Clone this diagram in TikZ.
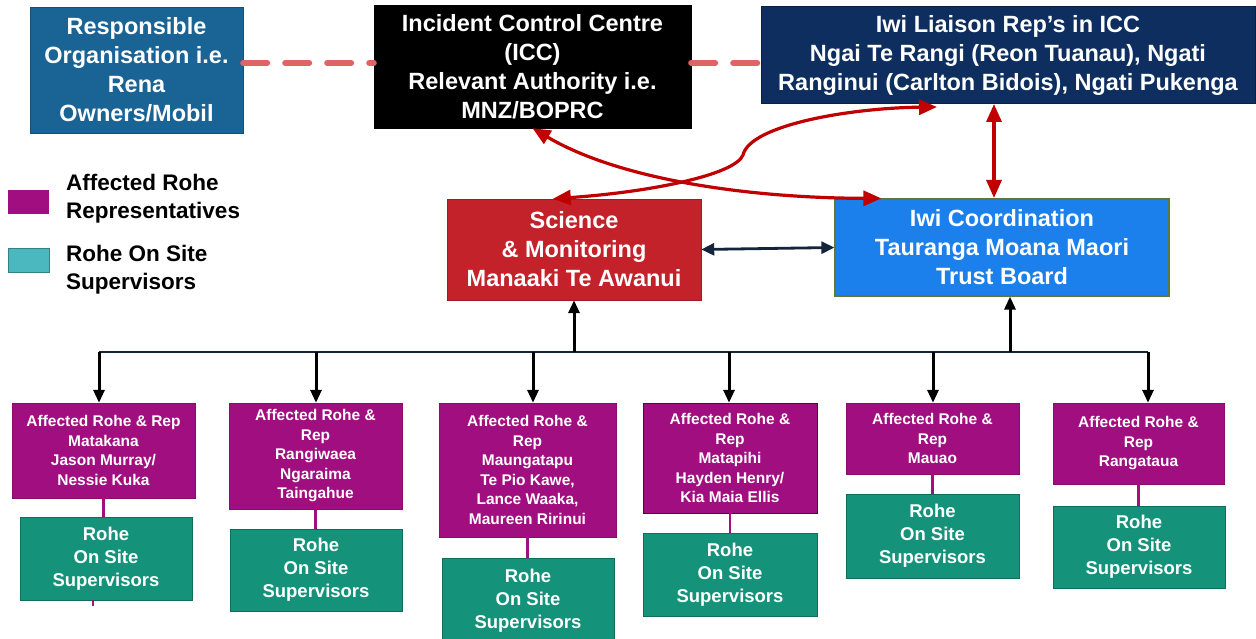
\documentclass[tikz,border=0pt]{standalone}
\usepackage{fontspec}
\setmainfont{Liberation Sans}
\usepackage{xcolor}
\usetikzlibrary{arrows.meta,calc}
\definecolor{respblue}{HTML}{1A6395}
\definecolor{liaisonnavy}{HTML}{0D2E5E}
\definecolor{sciencered}{HTML}{C4222A}
\definecolor{coordblue}{HTML}{1C80EC}
\definecolor{coordedge}{HTML}{5B7A3A}
\definecolor{rohepurple}{HTML}{A10E80}
\definecolor{sitegreen}{HTML}{14937A}
\definecolor{sitegreenedge}{HTML}{0E6E5A}
\definecolor{legendteal}{HTML}{4BB8C0}
\definecolor{linkred}{HTML}{C00000}
\definecolor{dashred}{HTML}{E06464}
\definecolor{linknavy}{HTML}{14243A}
\tikzset{
	topbox/.style={
			inner sep=2pt, align=center, text=white,
			font=\bfseries\fontsize{23.5}{29}\selectfont
		},
	rohebox/.style={
			draw=rohepurple!85!black, fill=rohepurple, text=white, align=center,
			inner sep=1pt, font=\bfseries\fontsize{15.5}{19.5}\selectfont
		},
	sitebox/.style={
			draw=sitegreenedge, fill=sitegreen, text=white, align=center,
			minimum width=172pt, inner sep=1pt,
			font=\bfseries\fontsize{18.5}{23}\selectfont
		},
	legendtext/.style={
			anchor=west, inner sep=0pt, align=left,
			font=\bfseries\fontsize{22.5}{28}\selectfont
		},
	redlink/.style={
			linkred, line width=3.2pt,
			{Triangle[length=18pt,width=15pt]}-{Triangle[length=18pt,width=15pt]}
		},
	treearrow/.style={black, line width=3pt, -{Triangle[length=13pt,width=11pt]}},
	rohelink/.style={rohepurple, line width=2.5pt}
}

\begin{document}
\begin{tikzpicture}[x=1pt,y=-1pt]
	\useasboundingbox (0,0) rectangle (1256,639);

	% Top row
	\node[topbox, fill=respblue, draw=respblue!80!black, minimum width=213pt, minimum height=126pt]
		(resp) at (136.5,70) {Responsible\\Organisation i.e.\\Rena\\Owners/Mobil};
	\node[topbox, fill=black, draw=black, minimum width=317pt, minimum height=123pt]
		(icc) at (532.5,66.5) {Incident Control Centre\\(ICC)\\Relevant Authority i.e.\\MNZ/BOPRC};
	\node[topbox, fill=liaisonnavy, draw=liaisonnavy!70!black, minimum width=494pt, minimum height=97pt]
		(liaison) at (1008,55) {Iwi Liaison Rep's in ICC\\Ngai Te Rangi (Reon Tuanau), Ngati\\Ranginui (Carlton Bidois), Ngati Pukenga};

	% Dashed links between the top boxes
	\coordinate (dashline) at (0,63);
	\draw[dashred, line width=6pt, line cap=round, dash pattern=on 24pt off 18pt]
		(resp.east |- dashline) -- (icc.west |- dashline);
	\draw[dashred, line width=6pt, line cap=round, dash pattern=on 24pt off 18pt]
		(icc.east |- dashline) -- (liaison.west |- dashline);

	% Legend
	\node[fill=rohepurple, minimum width=41pt, minimum height=24pt, inner sep=0pt] (keyrep) at (28.5,202) {};
	\node[legendtext] (legrep) at (66,199) {Affected Rohe\\Representatives};
	\node[fill=legendteal, draw=legendteal!70!black, minimum width=41pt, minimum height=24pt, inner sep=0pt] (keysite) at (28.5,260) {};
	\node[legendtext] (legsite) at (66,269.5) {Rohe On Site\\Supervisors};

	% Middle row
	\node[topbox, fill=sciencered, draw=sciencered!80!black, minimum width=254pt, minimum height=101pt]
		(sci) at (574,249.5) {Science\\\& Monitoring\\Manaaki Te Awanui};
	\node[topbox, fill=coordblue, draw=coordedge, line width=1.2pt, minimum width=334pt, minimum height=97pt]
		(coord) at (1002,247.5) {Iwi Coordination\\Tauranga Moana Maori\\Trust Board};
	\draw[linknavy, line width=2.8pt, {Triangle[length=13pt,width=12pt]}-{Triangle[length=13pt,width=12pt]}]
		(sci.east) -- (coord.west);

	% Red links
	\draw[redlink] (icc.south) .. controls (620,180) and (750,198) .. ([xshift=47pt]coord.north west);
	\draw[redlink] ([xshift=106pt]sci.north west) .. controls (650,192) and (735,175) .. (743,155)
		.. controls (750,125) and (850,108) .. (937,107);
	\draw[redlink] (994,104) -- (994,198);

	% Affected rohe
	\node[rohebox, minimum width=183pt, minimum height=95pt] (p1) at (103.5,450.5)
		{Affected Rohe \& Rep\\Matakana\\Jason Murray/\\Nessie Kuka};
	\node[rohebox, minimum width=173pt, minimum height=106pt] (p2) at (315.5,456)
		{Affected Rohe \&\\Rep\\Rangiwaea\\Ngaraima\\Taingahue};
	\node[rohebox, minimum width=177pt, minimum height=134pt] (p3) at (527.5,470)
		{Affected Rohe \&\\Rep\\Maungatapu\\Te Pio Kawe,\\Lance Waaka,\\Maureen Ririnui};
	\node[rohebox, draw=linknavy, minimum width=174pt, minimum height=110pt] (p4) at (730,458)
		{Affected Rohe \&\\Rep\\Matapihi\\Hayden Henry/\\Kia Maia Ellis};
	\node[rohebox, minimum width=173pt, minimum height=71pt] (p5) at (932.5,438.5)
		{Affected Rohe \&\\Rep\\Mauao};
	\node[rohebox, minimum width=171pt, minimum height=81pt] (p6) at (1138.5,443.5)
		{Affected Rohe \&\\Rep\\Rangataua};

	% On site supervisors
	\node[sitebox, minimum height=83pt] (s1) at (106,558.5) {Rohe\\On Site\\Supervisors};
	\node[sitebox, minimum height=82pt] (s2) at (316,570) {Rohe\\On Site\\Supervisors};
	\node[sitebox, minimum height=86pt] (s3) at (528,601) {Rohe\\On Site\\Supervisors};
	\node[sitebox, minimum width=174pt, minimum height=83pt] (s4) at (730,574.5) {Rohe\\On Site\\Supervisors};
	\node[sitebox, minimum width=173pt, minimum height=84pt] (s5) at (932.5,536) {Rohe\\On Site\\Supervisors};
	\node[sitebox, minimum height=82pt] (s6) at (1139,547) {Rohe\\On Site\\Supervisors};

	\draw[rohelink] (p1.south) -- (p1.south |- s1.north);
	\draw[rohelink] (p2.south) -- (p2.south |- s2.north);
	\draw[rohelink] (p3.south) -- (p3.south |- s3.north);
	\draw[rohelink] (p4.south) -- (p4.south |- s4.north);
	\draw[rohelink] (p5.south) -- (p5.south |- s5.north);
	\draw[rohelink] (p6.south) -- (p6.south |- s6.north);
	\coordinate (stub) at (93,606);
	\draw[rohelink, line width=2pt] (stub |- s1.south) -- (stub);

	% Tree
	\coordinate (b1) at (99,352);
	\coordinate (b2) at (316,352);
	\coordinate (b3) at (533,352);
	\coordinate (b4) at (729,352);
	\coordinate (b5) at (933,352);
	\coordinate (b6) at (1148,352);
	\coordinate (up1) at (574,352);
	\coordinate (up2) at (1010,352);
	\draw[linknavy, line width=2.8pt] (b1) -- (b6);
	\draw[treearrow] (b1) -- (b1 |- p1.north);
	\draw[treearrow] (b2) -- (b2 |- p2.north);
	\draw[treearrow] (b3) -- (b3 |- p3.north);
	\draw[treearrow] (b4) -- (b4 |- p4.north);
	\draw[treearrow] (b5) -- (b5 |- p5.north);
	\draw[treearrow] (b6) -- (b6 |- p6.north);
	\draw[treearrow] (up1) -- (up1 |- sci.south);
	\draw[treearrow] (up2) -- (up2 |- coord.south);

\end{tikzpicture}
\end{document}
